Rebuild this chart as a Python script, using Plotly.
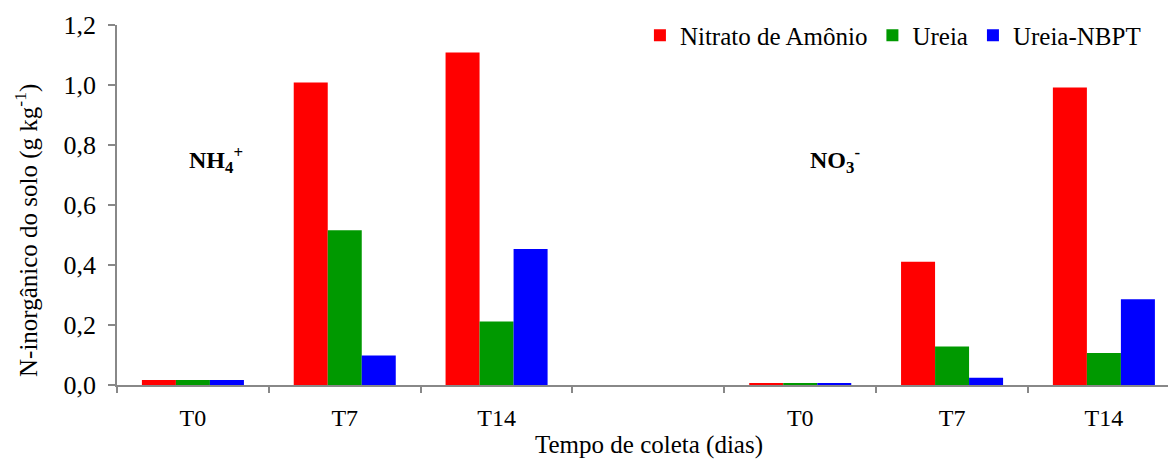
import plotly.graph_objects as go

# ---- data ----
categories = ["T0", "T7", "T14", "", "T0", "T7", "T14"]
series_names = ["Nitrato de Amônio", "Ureia", "Ureia-NBPT"]
nitrato = [0.017, 1.008, 1.108, None, 0.006, 0.411, 0.992]
ureia = [0.017, 0.516, 0.212, None, 0.006, 0.128, 0.107]
ureia_nbpt = [0.017, 0.098, 0.453, None, 0.006, 0.024, 0.286]
colors = ["#FF0000", "#009900", "#0000FF"]
ion_labels = ["NH<sub>4</sub><sup>+</sup>", "NO<sub>3</sub><sup>-</sup>"]
ion_pos = [(0.15, 0.75), (4.23, 0.75)]
y_ticks = [0, 0.2, 0.4, 0.6, 0.8, 1.0, 1.2]

FONT = "Liberation Serif"
W, H = 1168, 461
L, R, T, B = 117, 0, 25, 76
slot_px = 151.83
xmax = -0.5 + (W - L - R) / slot_px

xs = list(range(len(categories)))
fig = go.Figure()
for name, vals, col in zip(series_names, [nitrato, ureia, ureia_nbpt], colors):
    fig.add_trace(go.Bar(x=xs, y=vals, name=name, marker=dict(color=col, line=dict(width=0))))

gray = "#888888"
fig.update_layout(
    width=W, height=H,
    margin=dict(l=L, r=R, t=T, b=B),
    paper_bgcolor="white", plot_bgcolor="white",
    barmode="group", bargap=0.328, bargroupgap=0,
    separators=",.",
    font=dict(family=FONT, size=24, color="black"),
    showlegend=True,
    legend=dict(orientation="h", x=0.979, xanchor="right", y=1.035, yanchor="top",
                font=dict(family=FONT, size=25), bgcolor="rgba(0,0,0,0)",
                itemwidth=30, tracegroupgap=0),
    xaxis=dict(range=[-0.5, xmax], tickmode="array", tickvals=xs, ticktext=categories,
               ticks="", showline=True, linecolor=gray, linewidth=1.5, showgrid=False,
               zeroline=False, tickfont=dict(family=FONT, size=24),
               minor=dict(tickmode="linear", tick0=-0.5, dtick=1, ticks="outside",
                          ticklen=6, tickcolor=gray, tickwidth=1.5, showgrid=False),
               ticklabelstandoff=10),
    yaxis=dict(range=[0, 1.2], tickmode="array", tickvals=y_ticks, tickformat=".1f",
               ticks="outside", ticklen=7, tickcolor=gray, tickwidth=1.5,
               showline=True, linecolor=gray, linewidth=1.5, showgrid=False,
               zeroline=False, tickfont=dict(family=FONT, size=26), ticklabelstandoff=7),
)

ann = []
for lab, (ax, ay) in zip(ion_labels, ion_pos):
    ann.append(dict(x=ax, y=ay, xref="x", yref="y", text="<b>" + lab + "</b>",
                    showarrow=False, font=dict(family=FONT, size=24)))
ann.append(dict(x=(26 - L) / (W - L - R), y=(385 - 231) / (H - T - B), xref="paper", yref="paper",
                text="N-inorgânico do solo (g kg<sup>-1</sup>)", textangle=-90, showarrow=False,
                xanchor="center", yanchor="middle", font=dict(family=FONT, size=25)))
ann.append(dict(x=(649 - L) / (W - L - R), y=(385 - 461) / (H - T - B), xref="paper", yref="paper",
                text="Tempo de coleta (dias)", showarrow=False, xanchor="center", yanchor="bottom",
                font=dict(family=FONT, size=25)))
fig.update_layout(annotations=ann)

fig.write_html("out.html")
